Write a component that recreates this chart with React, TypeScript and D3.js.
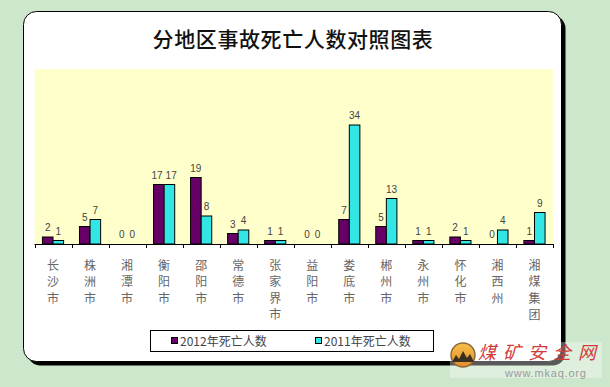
import React from "react";
import * as d3 from "d3";

const categories = ["长沙市", "株洲市", "湘潭市", "衡阳市", "邵阳市", "常德市", "张家界市", "益阳市", "娄底市", "郴州市", "永州市", "怀化市", "湘西州", "湘煤集团"];
const deaths2012 = [2, 5, 0, 17, 19, 3, 1, 0, 7, 5, 1, 2, 0, 1];
const deaths2011 = [1, 7, 0, 17, 8, 4, 1, 0, 34, 13, 1, 1, 4, 9];
const seriesNames = ["2012年死亡人数", "2011年死亡人数"];
const title = "分地区事故死亡人数对照图表";

const W = 610, H = 387;
const plot = { left: 34.5, right: 553, top: 69, bottom: 244 };
const colors = ["#660066", "#33E6E6"];
const cjk = "'Noto Sans CJK SC', 'Noto Sans', sans-serif";
const latin = "'Liberation Sans', Arial, sans-serif";

export default function App() {
  const x = d3.scaleBand<string>().domain(categories).range([plot.left, plot.right]).paddingInner(0).paddingOuter(0);
  const y = d3.scaleLinear().domain([0, 50]).range([plot.bottom, plot.top]);
  const bw = x.bandwidth() / 3.5;
  const off = bw * 0.75;
  const series = [deaths2012, deaths2011];
  const boundaries = d3.range(categories.length + 1).map((i) => plot.left + i * x.bandwidth());
  const fs = 10;
  const digitW = fs * 0.556;

  // nudge apart labels in a group that would collide
  const nudge = categories.map((_, i) => {
    const a = deaths2012[i], b = deaths2011[i];
    const wa = String(a).length * digitW, wb = String(b).length * digitW;
    const need = (wa + wb) / 2 + 3;
    const close = Math.abs(y(a) - y(b)) < fs + 2;
    return close && need > bw ? (need - bw) / 2 : 0;
  });

  return (
    <svg width={W} height={H} style={{ position: "absolute", left: 0, top: 0 }}>
      <rect x={0} y={0} width={W} height={H} fill="#CCE7CC" />
      {/* card shadow + card */}
      <rect x={27.5} y={15.5} width={538} height={350} rx={13} fill="#000" />
      <rect x={23.5} y={11.5} width={538} height={350} rx={13} fill="#fff" stroke="#000" strokeWidth={1} />
      <text x={293} y={46.5} textAnchor="middle" fontFamily={cjk} fontSize={21} fontWeight={500} letterSpacing={0.6} fill="#111">{title}</text>
      {/* plot area */}
      <rect x={plot.left} y={plot.top} width={plot.right - plot.left} height={plot.bottom - plot.top} fill="#FFFFCC" />
      {/* bars */}
      {series.map((vals, s) => (
        <g key={s}>
          {vals.map((v, i) => {
            const bx = (x(categories[i]) as number) + off + s * bw;
            const top = y(v);
            const dx = s === 0 ? -nudge[i] : nudge[i];
            return (
              <g key={i}>
                {v > 0 && (
                  <rect x={bx} y={top} width={bw} height={plot.bottom - top} fill={colors[s]} stroke="#000" strokeWidth={1} />
                )}
                <text x={bx + bw / 2 + dx} y={top - 6} textAnchor="middle" fontFamily={latin} fontSize={fs} fill="#444">{v}</text>
              </g>
            );
          })}
        </g>
      ))}
      {/* axis */}
      <line x1={plot.left} x2={plot.right} y1={plot.bottom + 0.5} y2={plot.bottom + 0.5} stroke="#000" strokeWidth={1} />
      {boundaries.map((bx, i) => (
        <line key={i} x1={Math.round(bx) + 0.5} x2={Math.round(bx) + 0.5} y1={plot.bottom} y2={plot.bottom + 4} stroke="#000" strokeWidth={1} />
      ))}
      {/* category labels, vertical */}
      {categories.map((c, i) => (
        <text key={c} fontFamily={cjk} fontSize={12} fill="#666" textAnchor="middle">
          {Array.from(c).map((ch, k) => (
            <tspan key={k} x={(x(c) as number) + x.bandwidth() / 2} y={269.5 + k * 16.5}>{ch}</tspan>
          ))}
        </text>
      ))}
      {/* legend */}
      <rect x={150.5} y={330.5} width={283} height={21} fill="#fff" stroke="#000" strokeWidth={1} />
      {seriesNames.map((n, s) => {
        const lx = s === 0 ? 171 : 315;
        return (
          <g key={n}>
            <rect x={lx + 0.5} y={337.5} width={6} height={6} fill={colors[s]} stroke="#000" strokeWidth={1} />
            <text x={lx + 9} y={345.5} fontFamily={cjk} fontSize={12} fill="#444">{n}</text>
          </g>
        );
      })}
      {/* watermark */}
      <defs>
        <linearGradient id="logoGrad" x1="0" y1="0" x2="0" y2="1">
          <stop offset="0" stopColor="#F6C04A" />
          <stop offset="1" stopColor="#E88A2A" />
        </linearGradient>
      </defs>
      <rect x={450} y={342} width={152} height={36} fill="#fff" opacity={0.35} />
      <circle cx={463} cy={355} r={12} fill="url(#logoGrad)" stroke="#8a6a3a" strokeWidth={1.5} />
      <path d="M452,362 L456,355 L459,359 L463,351 L467,358 L470,354 L474,362 Z" fill="#3a3020" />
      <text x={478} y={359} fontFamily={cjk} fontSize={18} fontStyle="italic" fill="#D23A3A" letterSpacing={7}>煤矿安全网</text>
      <text x={505} y={377} fontFamily={latin} fontSize={11} fill="#9a9a9a" letterSpacing={0.8}>www.mkaq.org</text>
    </svg>
  );
}
